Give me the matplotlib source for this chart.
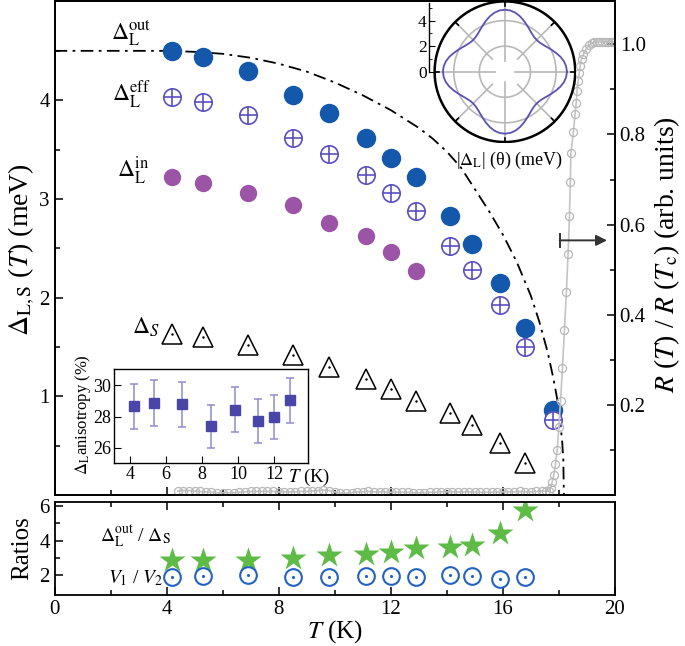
import numpy as np
import matplotlib
matplotlib.use('Agg')
from matplotlib import pyplot as plt
from matplotlib.ticker import MultipleLocator, FixedLocator, FormatStrFormatter

plt.rcParams['font.family'] = ['Liberation Serif', 'DejaVu Serif']
plt.rcParams['mathtext.fontset'] = 'stix'

# gap values vs temperature (K, meV)
T_gap = [4.2, 5.3, 6.9, 8.5, 9.8, 11.1, 12.0, 12.9, 14.1, 14.9, 15.9, 16.8, 17.8]
d_out = [4.50, 4.44, 4.30, 4.05, 3.87, 3.62, 3.41, 3.22, 2.83, 2.54, 2.15, 1.69, 0.86]
d_eff = [4.03, 3.98, 3.85, 3.62, 3.45, 3.24, 3.06, 2.88, 2.52, 2.28, 1.93, 1.50, 0.76]
d_in = [3.22, 3.16, 3.06, 2.94, 2.76, 2.62, 2.46, 2.27]
d_s = [1.63, 1.60, 1.52, 1.42, 1.30, 1.18, 1.075, 0.955, 0.83, 0.71, 0.53, 0.32]

# BCS-like guide line
T_bcs = [0, 2, 4, 5, 6, 7, 8, 9, 10, 11, 12, 12.5, 13, 13.5, 14, 14.5, 15, 15.5,
         16, 16.5, 17, 17.3, 17.6, 17.8, 17.95, 18.05, 18.12, 18.16, 18.18]
d_bcs = [4.5, 4.5, 4.5, 4.49, 4.47, 4.43, 4.37, 4.29, 4.18, 4.05, 3.90, 3.81, 3.72,
         3.61, 3.48, 3.32, 3.10, 2.88, 2.64, 2.36, 2.02, 1.76, 1.45, 1.19, 0.96,
         0.74, 0.54, 0.36, 0.0]

# resistance R(T)/R(Tc)
T_res = [4.4, 4.6, 4.8, 5.0, 5.2, 5.4, 5.6, 5.8, 6.0, 6.2, 6.4, 6.6, 6.8, 7.0, 7.2,
         7.4, 7.6, 7.8, 8.0, 8.2, 8.4, 8.6, 8.8, 9.0, 9.2, 9.4, 9.6, 9.8, 10.0, 10.2,
         10.4, 10.6, 10.8, 11.0, 11.2, 11.4, 11.6, 11.8, 12.0, 12.2, 12.4, 12.6, 12.8,
         13.0, 13.2, 13.4, 13.6, 13.8, 14.0, 14.2, 14.4, 14.6, 14.8, 15.0, 15.2, 15.4,
         15.6, 15.8, 16.0, 16.2, 16.4, 16.6, 16.8, 17.0, 17.2, 17.4, 17.55,
         17.66, 17.71, 17.76, 17.82, 17.88, 17.94, 18.00, 18.06, 18.13, 18.20, 18.27,
         18.33, 18.38, 18.41, 18.43, 18.52, 18.58, 18.62, 18.65, 18.69, 18.73, 18.76,
         18.81, 18.88, 18.97, 19.08, 19.17, 19.26, 19.35, 19.45, 19.55, 19.65, 19.75,
         19.85, 19.95, 20.0]
R_res = [0.009, 0.010, 0.010, 0.009, 0.008, 0.007, 0.006, 0.005, 0.005, 0.005, 0.005,
         0.006, 0.007, 0.008, 0.008, 0.008, 0.008, 0.008, 0.007, 0.007, 0.007, 0.007,
         0.008, 0.008, 0.009, 0.010, 0.011, 0.010, 0.007, 0.004, 0.004, 0.005, 0.007,
         0.007, 0.008, 0.007, 0.007, 0.007, 0.006, 0.006, 0.006, 0.006, 0.005, 0.005,
         0.005, 0.006, 0.006, 0.007, 0.007, 0.007, 0.007, 0.007, 0.007, 0.006, 0.006,
         0.006, 0.006, 0.007, 0.007, 0.007, 0.007, 0.008, 0.007, 0.007, 0.008, 0.009,
         0.008,
         0.010, 0.016, 0.028, 0.045, 0.068, 0.100, 0.150, 0.209, 0.281, 0.366, 0.450,
         0.535, 0.618, 0.694, 0.758, 0.806, 0.845, 0.870, 0.896, 0.918, 0.937, 0.952,
         0.967, 0.978, 0.989, 0.998, 1.002, 1.005, 1.005, 1.006, 1.005, 1.006, 1.005,
         1.006, 1.005, 1.005]

# ratios panel
T_rat = [4.2, 5.3, 6.9, 8.5, 9.8, 11.1, 12.0, 12.9, 14.1, 14.9, 15.9, 16.8]
ratio_ds = [2.87, 2.87, 2.91, 3.0, 3.16, 3.24, 3.34, 3.56, 3.61, 3.76, 4.43, 5.75]
ratio_v = [1.93, 1.96, 2.0, 1.90, 1.93, 1.96, 1.96, 1.93, 2.0, 1.96, 1.77, 1.93]

# anisotropy inset
T_an = [4.2, 5.35, 6.9, 8.5, 9.8, 11.1, 12.0, 12.9]
aniso = [28.66, 28.88, 28.79, 27.37, 28.45, 27.70, 27.96, 29.03]
aniso_err = [1.45, 1.47, 1.45, 1.40, 1.45, 1.40, 1.42, 1.45]

# polar inset: |Delta_L|(theta) over one octant, 0..45 deg step 5
pol_r = [4.85, 4.81, 4.69, 4.50, 4.27, 4.04, 3.83, 3.66, 3.55, 3.51]

c_out = '#1458ab'
c_eff = '#5a4fc2'
c_in = '#9c55a6'
c_green = '#5dbb46'
c_v = '#2262c2'
c_gray = '#b8b8b8'

fig = plt.figure(figsize=(6.85, 6.46), dpi=100)

ax = fig.add_axes([0.0796, 0.2337, 0.818, 0.764])
ax.plot(T_bcs, d_bcs, color='k', ls=(0, (7, 3, 1.5, 3)), lw=1.3, zorder=2)
ax.plot(T_gap, d_out, 'o', ms=14, color=c_out, mec='none', zorder=4)
ax.plot(T_gap, d_eff, 'o', ms=12.5, mfc='white', mec=c_eff, mew=1.2, zorder=4)
ax.plot(T_gap, d_eff, '+', ms=12.5, color=c_eff, mew=1.2, zorder=5)
ax.plot(T_gap[:len(d_in)], d_in, 'o', ms=12.5, color=c_in, mec='none', zorder=4)
ax.plot(T_gap[:len(d_s)], d_s, '^', ms=14, mfc='none', mec='k', mew=1.1, zorder=4)
ax.plot(T_gap[:len(d_s)], d_s, '.', ms=1.5, color='k', zorder=5)

ax.text(2.73, 4.68, r'$\Delta_{\rm L}^{\rm out}$', fontsize=17, ha='center', va='center')
ax.text(2.73, 4.05, r'$\Delta_{\rm L}^{\rm eff}$', fontsize=17, ha='center', va='center')
ax.text(2.8, 3.28, r'$\Delta_{\rm L}^{\rm in}$', fontsize=17, ha='center', va='center')
ax.text(3.25, 1.7, r'$\Delta_S$', fontsize=17, ha='center', va='center')

ax.set_xlim(0, 20)
ax.set_ylim(0, 5)
ax.xaxis.set_major_locator(MultipleLocator(4))
ax.xaxis.set_minor_locator(MultipleLocator(2))
ax.yaxis.set_major_locator(FixedLocator([1, 2, 3, 4]))
ax.yaxis.set_minor_locator(MultipleLocator(0.5))
ax.tick_params(which='both', direction='in', top=False, right=False,
               labelbottom=False, labelsize=15)
ax.tick_params(which='major', length=6, width=1.1)
ax.tick_params(which='minor', length=3.5, width=1.1)

ax2 = ax.twinx()
ax2.plot(T_res, R_res, '-', color='#c4c4c4', lw=1.2, zorder=1)
ax2.plot(T_res, R_res, 'o', ms=5.8, mfc='none', mec=c_gray, mew=0.9, zorder=2)
ax2.annotate('', xy=(19.72, 0.565), xytext=(18.03, 0.565),
             arrowprops=dict(arrowstyle='-|>', color='#333333', lw=1.4,
                             mutation_scale=16, shrinkA=0, shrinkB=0))
ax2.plot([18.03, 18.03], [0.55, 0.58], color='#333333', lw=1.4)
ax2.set_ylim(0, 1.095)
ax2.yaxis.set_major_locator(FixedLocator([0.2, 0.4, 0.6, 0.8, 1.0]))
ax2.yaxis.set_minor_locator(MultipleLocator(0.1))
ax2.yaxis.set_major_formatter(FormatStrFormatter('%.1f'))
ax2.tick_params(which='both', direction='in', labelsize=15)
ax2.tick_params(which='major', length=6, width=1.1)
ax2.tick_params(which='minor', length=3.5, width=1.1)
for a in (ax, ax2):
    for s in a.spines.values():
        s.set_linewidth(1.3)

# ratios panel
axb = fig.add_axes([0.0796, 0.0789, 0.818, 0.1444])
axb.plot(T_rat, ratio_ds, '*', ms=19, color=c_green, mec='none')
axb.plot(T_rat, ratio_v, 'o', ms=12, mfc='none', mec=c_v, mew=1.5)
axb.plot(T_rat, ratio_v, '.', ms=2.5, color=c_v)
axb.text(2.9, 4.2, r'$\Delta_{\rm L}^{\rm out}$ / $\Delta_{\rm S}$', fontsize=14,
         ha='center', va='center')
axb.text(2.9, 1.84, r'$V_1$ / $V_2$', fontsize=14, ha='center', va='center')
axb.set_xlim(0, 20)
axb.set_ylim(0.87, 6.24)
axb.xaxis.set_major_locator(MultipleLocator(4))
axb.xaxis.set_minor_locator(MultipleLocator(2))
axb.yaxis.set_major_locator(FixedLocator([2, 4, 6]))
axb.yaxis.set_minor_locator(FixedLocator([3, 5]))
axb.tick_params(which='both', direction='in', top=True, labelsize=15)
axb.tick_params(which='major', length=6, width=1.1)
axb.tick_params(which='minor', length=3.5, width=1.1)
for s in axb.spines.values():
    s.set_linewidth(1.3)

fig.text(22 / 685, 1 - 250 / 646, r'$\Delta_{\rm L,S}$ ($T$) (meV)', fontsize=20,
         rotation=90, ha='center', va='center')
fig.text(667 / 685, 1 - 255 / 646, r'$R$ ($T$) / $R$ ($T_{\rm c}$) (arb. units)',
         fontsize=20, rotation=90, ha='center', va='center')
fig.text(22 / 685, 1 - 548 / 646, 'Ratios', fontsize=18, rotation=90,
         ha='center', va='center')
fig.text(335 / 685, 1 - 632 / 646, r'$T$ (K)', fontsize=18, ha='center', va='center')

# anisotropy inset
axi = fig.add_axes([0.1664, 0.2828, 0.2836, 0.1455])
axi.errorbar(T_an, aniso, yerr=aniso_err, fmt='s', ms=7.5, color='#4a46a8',
             ecolor='#8f8bd0', elinewidth=1.1, capsize=3, capthick=1.1)
axi.set_xlim(3.1, 13.9)
axi.set_ylim(25, 31.03)
axi.xaxis.set_major_locator(FixedLocator([4, 6, 8, 10, 12]))
axi.yaxis.set_major_locator(FixedLocator([26, 28, 30]))
axi.tick_params(direction='in', length=5, labelsize=13, pad=2)
for s in axi.spines.values():
    s.set_linewidth(1.0)
fig.text(83 / 685, 1 - 415 / 646, r'$\Delta_{\rm L}$anisotropy (%)', fontsize=12,
         rotation=90, ha='center', va='center')
fig.text(309 / 685, 1 - 477 / 646, r'$T$ (K)', fontsize=13.5, ha='center', va='center')

# polar inset drawn on a plain axes
axp = fig.add_axes([0.627, 0.778, 0.2146, 0.222])
axp.patch.set_alpha(0)
axp.set_xlim(-5.9, 5.6)
axp.set_ylim(-5.6, 5.6)
axp.set_aspect('equal')
t = np.linspace(0, 2 * np.pi, 300)
for rr in (2, 4):
    axp.plot(rr * np.cos(t), rr * np.sin(t), color=c_gray, lw=1.2)
for deg in range(0, 360, 45):
    a = np.deg2rad(deg)
    r0 = 0.8 if deg % 90 == 0 else 1.4
    axp.plot([r0 * np.cos(a), 5.5 * np.cos(a)], [r0 * np.sin(a), 5.5 * np.sin(a)],
             color=c_gray, lw=1.2)
    axp.plot([5.15 * np.cos(a), 5.5 * np.cos(a)], [5.15 * np.sin(a), 5.5 * np.sin(a)],
             color='k', lw=1.2)
axp.plot(5.5 * np.cos(t), 5.5 * np.sin(t), color='k', lw=1.8)
degs = list(range(0, 365, 5))
idx = [min(d % 90, 90 - d % 90) // 5 for d in degs]
rad = np.array(pol_r)[idx]
ang = np.deg2rad(degs)
axp.plot(rad * np.cos(ang), rad * np.sin(ang), color='#5b52b5', lw=1.3)
for s in ('top', 'right', 'bottom'):
    axp.spines[s].set_visible(False)
axp.spines['left'].set_bounds(0, 5.4)
axp.spines['left'].set_linewidth(1.0)
axp.set_xticks([])
axp.yaxis.set_major_locator(FixedLocator([0, 2, 4]))
axp.yaxis.set_minor_locator(FixedLocator([1, 3, 5]))
axp.tick_params(axis='y', which='both', direction='in', labelsize=12.5, pad=2)
axp.tick_params(axis='y', which='major', length=4)
axp.tick_params(axis='y', which='minor', length=2)
fig.text(509 / 685, 1 - 160 / 646, r'|$\Delta_{\rm L}$| (θ) (meV)', fontsize=13,
         ha='center', va='center')

fig.savefig('out.png', dpi=100)
